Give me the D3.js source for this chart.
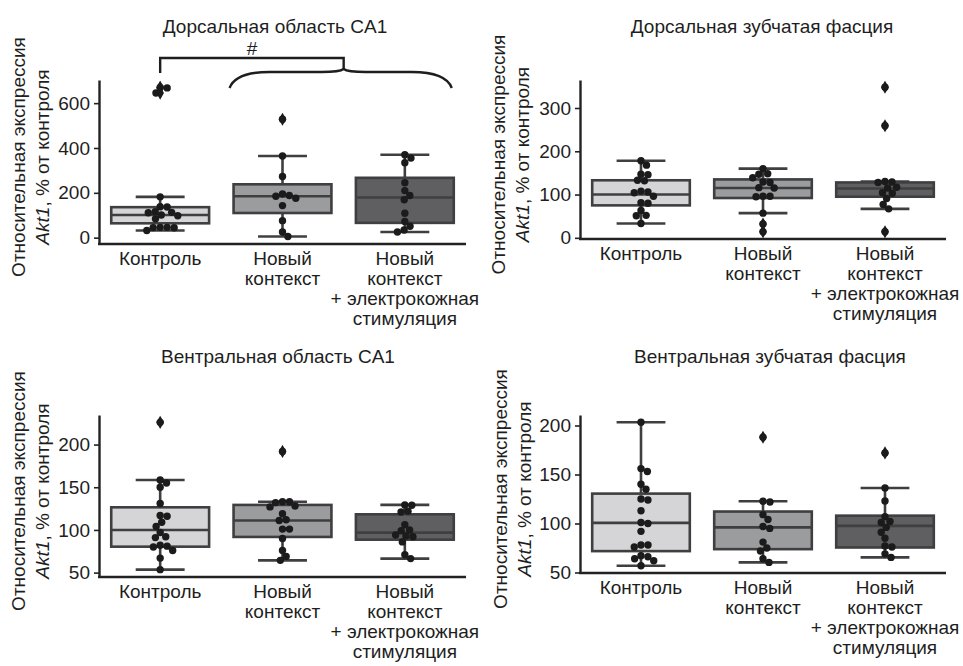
<!DOCTYPE html>
<html>
<head>
<meta charset="utf-8">
<script src="https://cdn.jsdelivr.net/npm/d3@7"></script>
<style>
body { margin: 0; background: #fff; }
text { font-family: "Liberation Sans", Arial, sans-serif; fill: #1e1e1e; }
</style>
</head>
<body>
<div id="chart"></div>
<script>
// group labels (line-broken like the original)
var groupLabels = [["Контроль"], ["Новый", "контекст"], ["Новый", "контекст", "+ электрокожная", "стимуляция"]];
var titles = ["Дорсальная область CA1", "Дорсальная зубчатая фасция", "Вентральная область CA1", "Вентральная зубчатая фасция"];
var fills = ["#d5d5d7", "#9b9c9e", "#5f5f61"];

// individual values, % of control
var dorsCA1 = [
	[670, 668, 645, 182, 138, 137, 116, 113, 111, 101, 98, 84, 46, 46, 45, 44, 32],
	[528, 364, 273, 195, 188, 185, 176, 143, 76, 25, 5],
	[370, 355, 334, 245, 210, 188, 169, 109, 72, 51, 34, 25]
];
var dorsDG = [
	[178, 168, 147, 146, 133, 132, 108, 106, 104, 96, 81, 80, 63, 52, 51, 33],
	[160, 148, 147, 139, 129, 128, 116, 115, 96, 96, 95, 57, 32, 14],
	[348, 259, 130, 129, 128, 117, 115, 104, 103, 91, 77, 67, 14]
];
var ventCA1 = [
	[226, 158.5, 155, 150, 131, 117, 116, 109, 104, 97, 92, 91, 82, 81, 80, 76, 67, 53.5],
	[192, 133, 133, 132, 128, 127, 119, 112, 111, 101, 101, 90, 76, 69, 64.4],
	[129.3, 129, 122, 121, 106, 100, 99, 94, 93, 92, 86, 71, 66.4]
];
var ventDG = [
	[203.4, 156, 153, 140, 135, 125, 124, 113, 101, 100, 92, 78, 78, 76, 67, 66, 64, 62, 56.8],
	[188, 122.7, 122, 109, 104, 97, 95, 81, 75, 72, 64, 60.3],
	[172, 136.3, 123, 107, 102, 101, 96, 91, 85, 77, 76, 69, 65.4]
];

// box stats: q1, median, q3, lower whisker, upper whisker
var dorsCA1Box = [[64, 101, 136, 32, 182], [110, 185, 238, 5, 364], [66, 179, 267, 25, 370]];
var dorsDGBox = [[75, 100, 133, 33, 178], [92, 115, 135, 57, 160], [95, 114, 128, 67, 130]];
var ventCA1Box = [[80.4, 100, 126.5, 53.5, 158.5], [91.8, 111, 129.3, 64.4, 133], [88.6, 96.8, 118.3, 66.4, 129.3]];
var ventDGBox = [[71.8, 100.6, 130.5, 56.8, 203.4], [73.8, 96, 112.2, 60.3, 122.7], [75.5, 97.6, 108, 65.4, 136.3]];

var ticks1 = [0, 200, 400, 600];
var ticks2 = [0, 100, 200, 300];
var ticks3 = [50, 100, 150, 200];
var ticks4 = [50, 100, 150, 200];

// layout of the four panels (pixels)
var panels = [
	{ data: dorsCA1, box: dorsCA1Box, ticks: ticks1, title: titles[0], x0: 99, x1: 466, y0: 80, y1: 244, tx: 275, ty: 33, lx: 18 },
	{ data: dorsDG, box: dorsDGBox, ticks: ticks2, title: titles[1], x0: 580, x1: 946, y0: 80, y1: 239, tx: 762, ty: 33, lx: 498 },
	{ data: ventCA1, box: ventCA1Box, ticks: ticks3, title: titles[2], x0: 99, x1: 466, y0: 415, y1: 577, tx: 278, ty: 363, lx: 18 },
	{ data: ventDG, box: ventDGBox, ticks: ticks4, title: titles[3], x0: 580, x1: 946, y0: 415, y1: 573, tx: 770, ty: 363, lx: 500 }
];

var width = 963, height = 666;
var lineColor = "#3f3f41";
var fontSize = 19;

var svg = d3.select("#chart").append("svg")
		.attr("width", width)
		.attr("height", height);

// seaborn-like beeswarm: offsets in pixels
function swarm(ys, d) {
	var order = ys.map(function(y, i) { return { y: y, i: i }; })
		.sort(function(a, b) { return a.y - b.y; });
	var placed = [], out = new Array(ys.length);
	order.forEach(function(p) {
		var near = placed.filter(function(q) { return Math.abs(q.y - p.y) < d; });
		var cands = [0];
		near.forEach(function(q) {
			var dx = Math.sqrt(d * d - (q.y - p.y) * (q.y - p.y));
			cands.push(q.x + dx, q.x - dx);
		});
		cands.sort(function(a, b) { return Math.abs(a) - Math.abs(b); });
		var x = 0;
		for (var k = 0; k < cands.length; k++) {
			var ok = near.every(function(q) {
				var dx = q.x - cands[k], dy = q.y - p.y;
				return dx * dx + dy * dy >= d * d - 0.01;
			});
			if (ok) { x = cands[k]; break; }
		}
		placed.push({ x: x, y: p.y });
		out[p.i] = x;
	});
	return out;
}

panels.forEach(function(p) {
	var all = d3.merge(p.data);
	var ext = d3.extent(all), pad = (ext[1] - ext[0]) * 0.05;

	var y = d3.scaleLinear()
			.domain([ext[0] - pad, ext[1] + pad])
			.range([p.y1, p.y0]);

	var x = d3.scaleBand()
			.domain(d3.range(3))
			.range([p.x0, p.x1])
			.padding(0);

	var g = svg.append("g");

	// title
	g.append("text")
			.attr("x", p.tx)
			.attr("y", p.ty)
			.attr("text-anchor", "middle")
			.style("font-size", fontSize + "px")
			.text(p.title);

	// y axis
	var yAxis = d3.axisLeft(y)
			.tickValues(p.ticks)
			.tickSize(5)
			.tickSizeOuter(0)
			.tickPadding(4);

	var ax = g.append("g")
			.attr("transform", "translate(" + p.x0 + ",0)")
			.call(yAxis);
	ax.select(".domain").attr("stroke", "#222").attr("stroke-width", 2.4);
	ax.selectAll(".tick line").attr("stroke", "#222").attr("stroke-width", 1.6);
	ax.selectAll(".tick text")
			.style("font-size", fontSize + "px")
			.attr("fill", "#1e1e1e");

	// x axis line
	g.append("line")
			.attr("x1", p.x0 - 1)
			.attr("x2", p.x1)
			.attr("y1", p.y1)
			.attr("y2", p.y1)
			.attr("stroke", "#222")
			.attr("stroke-width", 2.4);

	// y label, two lines
	var cy = (p.y0 + p.y1) / 2 - 5;
	var lab = g.append("text")
			.attr("transform", "translate(" + p.lx + "," + cy + ") rotate(-90)")
			.attr("text-anchor", "middle")
			.style("font-size", fontSize + "px");
	lab.append("tspan")
			.attr("x", 0)
			.attr("dy", "0.35em")
			.text("Относительная экспрессия");
	var l2 = lab.append("tspan")
			.attr("x", 0)
			.attr("dy", 24);
	l2.append("tspan").style("font-style", "italic").text("Akt1");
	l2.append("tspan").text(", % от контроля");

	// category labels
	groupLabels.forEach(function(lines, i) {
		var t = g.append("text")
				.attr("x", x(i) + x.bandwidth() / 2)
				.attr("y", p.y1 + 21)
				.attr("text-anchor", "middle")
				.style("font-size", fontSize + "px");
		lines.forEach(function(s, k) {
			t.append("tspan")
					.attr("x", x(i) + x.bandwidth() / 2)
					.attr("dy", k ? 20 : 0)
					.text(s);
		});
	});

	// boxes
	var bw = x.bandwidth() * 0.8;
	p.box.forEach(function(b, i) {
		var cx = x(i) + x.bandwidth() / 2;
		var bg = g.append("g");
		bg.append("line")
				.attr("x1", cx).attr("x2", cx)
				.attr("y1", y(b[3])).attr("y2", y(b[4]))
				.attr("stroke", lineColor)
				.attr("stroke-width", 2.6);
		bg.selectAll(".cap")
				.data([b[3], b[4]])
			.enter().append("line")
				.attr("x1", cx - bw / 4).attr("x2", cx + bw / 4)
				.attr("y1", function(v) { return y(v); })
				.attr("y2", function(v) { return y(v); })
				.attr("stroke", lineColor)
				.attr("stroke-width", 2.6);
		bg.append("rect")
				.attr("x", cx - bw / 2)
				.attr("y", y(b[2]))
				.attr("width", bw)
				.attr("height", y(b[0]) - y(b[2]))
				.attr("fill", fills[i])
				.attr("stroke", lineColor)
				.attr("stroke-width", 2.6);
		bg.append("line")
				.attr("x1", cx - bw / 2).attr("x2", cx + bw / 2)
				.attr("y1", y(b[1])).attr("y2", y(b[1]))
				.attr("stroke", lineColor)
				.attr("stroke-width", 2.6);
	});

	// swarm points and outlier diamonds
	p.data.forEach(function(vals, i) {
		var cx = x(i) + x.bandwidth() / 2;
		var b = p.box[i];
		var offs = swarm(vals.map(function(v) { return y(v); }), 7);
		g.selectAll(".pt" + i)
				.data(vals)
			.enter().append("circle")
				.attr("cx", function(v, k) { return cx + offs[k]; })
				.attr("cy", function(v) { return y(v); })
				.attr("r", 3.7)
				.attr("fill", "#1b1b1b");
		g.selectAll(".out" + i)
				.data(vals.filter(function(v) { return v > b[4] + 0.5 || v < b[3] - 0.5; }))
			.enter().append("path")
				.attr("transform", function(v) { return "translate(" + cx + "," + y(v) + ")"; })
				.attr("d", d3.symbol(d3.symbolDiamond, 50))
				.attr("fill", "#1b1b1b");
	});

	// significance bracket on first panel
	if (p === panels[0]) {
		var c0 = x(0) + x.bandwidth() / 2;
		var mid = x(2);
		var bl = x(1) + x.bandwidth() / 2 - bw / 2 - 4;
		var br = x(2) + x.bandwidth() / 2 + bw / 2 - 2;
		var top = 58, by = 72, bend = 88;
		g.append("path")
				.attr("d", "M" + c0 + "," + (top + 15) + "V" + top + "H" + mid + "V" + (by - 2))
				.attr("fill", "none")
				.attr("stroke", "#1e1e1e")
				.attr("stroke-width", 2.4);
		g.append("path")
				.attr("d", "M" + bl + "," + bend +
					"Q" + (bl + 6) + "," + by + " " + (bl + 40) + "," + by +
					"L" + (mid - 22) + "," + by +
					"Q" + (mid - 4) + "," + by + " " + mid + "," + (by - 3) +
					"Q" + (mid + 4) + "," + by + " " + (mid + 22) + "," + by +
					"L" + (br - 40) + "," + by +
					"Q" + (br - 6) + "," + by + " " + br + "," + bend)
				.attr("fill", "none")
				.attr("stroke", "#1e1e1e")
				.attr("stroke-width", 2.4);
		g.append("text")
				.attr("x", (c0 + mid) / 2)
				.attr("y", 55)
				.attr("text-anchor", "middle")
				.style("font-size", fontSize + "px")
				.text("#");
	}
});
</script>
</body>
</html>
